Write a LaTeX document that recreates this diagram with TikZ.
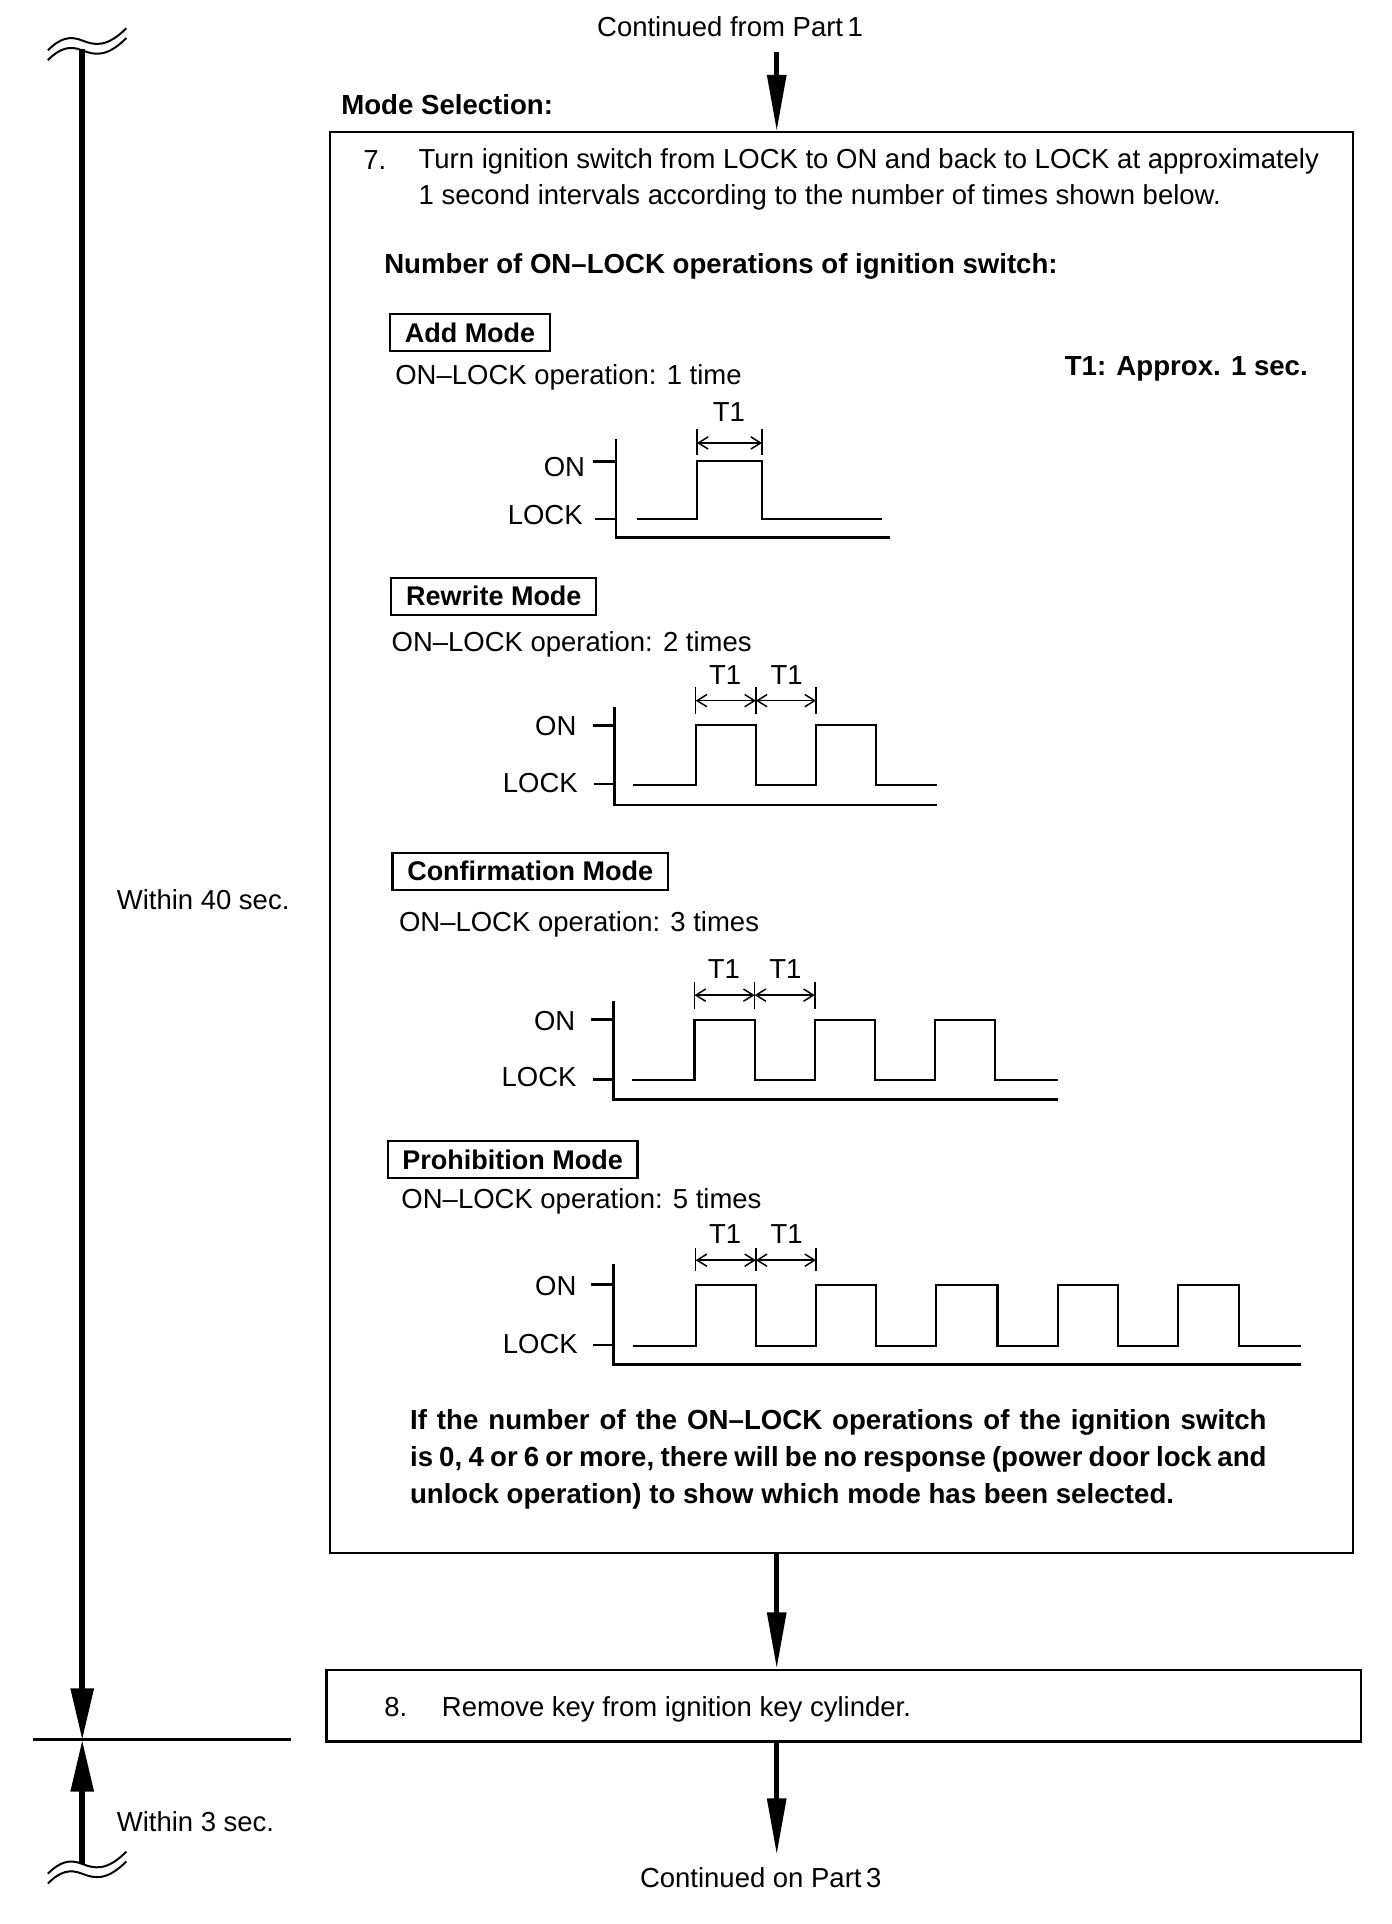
\documentclass[tikz,border=0pt]{standalone}
\usepackage{fontspec}
\setmainfont{Liberation Sans}
\usepackage{tikz}
\usetikzlibrary{arrows.meta,positioning}

\begin{document}
\begin{tikzpicture}[x=1pt,y=-1pt,
  txt/.style={font=\fontsize{22.4}{29.5}\selectfont,inner sep=0pt},
  btxt/.style={font=\fontsize{22.5}{29.5}\selectfont\bfseries,inner sep=0pt},
  frame/.style={draw,line width=1.5pt,inner sep=0pt},
  modebox/.style={draw,line width=1.8pt,font=\fontsize{22}{26}\selectfont\bfseries,
               inner xsep=12pt,inner ysep=0pt,minimum height=30pt},
  flow/.style={-{Triangle[length=46pt,width=15pt]},line width=4pt},
  span/.style={-{Triangle[length=42pt,width=18pt]},line width=4.5pt},
  sig/.style={line width=1.8pt},
  ax/.style={line width=2.2pt},
  dim/.style={{Straight Barb[length=8pt,width=10pt]}-{Straight Barb[length=8pt,width=10pt]},line width=1.2pt},
  brk/.style={line width=1.6pt}]
  \useasboundingbox (0,0) rectangle (1134,1568);
  \coordinate (spine) at (633,0);

  % flow boxes
  \node[txt,anchor=base,inner ysep=12pt] (cont1) at (595,30) {Continued from Part\,1};
  \node[btxt,anchor=base west] (modesel) at (278,93) {Mode Selection:};
  \node[frame,anchor=north west,minimum width=834pt,minimum height=1158pt] (box7) at (268,107) {};
  \node[frame,line width=2.2pt,anchor=north west,minimum width=843pt,minimum height=58pt] (box8) at (265,1360) {};
  \node[txt,anchor=base,inner ysep=10pt] (cont3) at (620,1538) {Continued on Part\,3};
  \draw[flow] (cont1.south -| spine) -- (box7.north -| spine);
  \draw[flow] (box7.south -| spine) -- (box8.north -| spine);
  \draw[flow] (box8.south -| spine) -- (cont3.north -| spine);

  % step 7
  \node[txt,anchor=base west] (n7) at (296,138) {7.};
  \node[txt,anchor=base west,align=left] (s7) at (341,167)
    {Turn ignition switch from LOCK to ON and back to LOCK at approximately\\
     1 second intervals according to the number of times shown below.};
  \node[btxt,anchor=base west] (count) at (313,223) {Number of ON–LOCK operations of ignition switch:};
  \node[btxt,anchor=base east] (t1def) at (1066,306) {T1: Approx. 1 sec.};

  \node[modebox,anchor=west] (add) at (317,271) {Add Mode};
  \node[txt,anchor=base west] (addop) at (322,313) {ON–LOCK operation: 1 time};
  \node[modebox,anchor=west] (rewrite) at (318,486) {Rewrite Mode};
  \node[txt,anchor=base west] (rewop) at (319,531) {ON–LOCK operation: 2 times};
  \node[modebox,anchor=west] (confirm) at (319,710) {Confirmation Mode};
  \node[txt,anchor=base west] (conop) at (325,759) {ON–LOCK operation: 3 times};
  \node[modebox,anchor=west] (prohib) at (315,945) {Prohibition Mode};
  \node[txt,anchor=base west] (proop) at (327,985) {ON–LOCK operation: 5 times};

  % add mode timing
  \begin{scope}[shift={(502,438)}]
    \draw[ax] (0,-80) -- (0,0) -- (223,0);
    \draw[ax] (-19,-62) -- (0,-62) (-17,-15) -- (0,-15);
    \node[txt,anchor=east] (on1) at (-25,-57) {ON};
    \node[txt,anchor=east] (lock1) at (-27,-18) {LOCK};
    \draw[sig] (17,-15) -- (66,-15) -- (66,-62) -- (119,-62) -- (119,-15) -- (217,-15);
    \draw[line width=1.2pt] (66,-88) -- (66,-67) (119,-88) -- (119,-67);
    \draw[dim] (66,-77) -- (119,-77);
    \node[txt] (t1a) at (92,-102) {T1};
  \end{scope}

  % rewrite mode timing
  \begin{scope}[shift={(501,656)}]
    \draw[ax] (0,-80) -- (0,0) -- (263,0);
    \draw[ax] (-18,-65) -- (0,-65) (-17,-17) -- (0,-17);
    \node[txt,anchor=east] (on2) at (-31,-64) {ON};
    \node[txt,anchor=east] (lock2) at (-30,-18) {LOCK};
    \draw[sig] (15,-16) -- (66,-16) -- (66,-65) -- (115,-65) -- (115,-16) -- (164,-16)
      -- (164,-65) -- (213,-65) -- (213,-16) -- (263,-16);
    \draw[line width=1.2pt] (66,-96) -- (66,-74) (115,-96) -- (115,-74) (164,-96) -- (164,-74);
    \draw[dim] (66,-85) -- (115,-85);
    \draw[dim] (115,-85) -- (164,-85);
    \node[txt] (t2a) at (90,-106) {T1};
    \node[txt] (t2b) at (140,-106) {T1};
  \end{scope}

  % confirmation mode timing
  \begin{scope}[shift={(500,896)}]
    \draw[ax] (0,-80) -- (0,0) -- (362,0);
    \draw[ax] (-18,-65) -- (0,-65) (-17,-16) -- (0,-16);
    \node[txt,anchor=east] (on3) at (-31,-64) {ON};
    \node[txt,anchor=east] (lock3) at (-30,-18) {LOCK};
    \draw[sig] (15,-16) -- (66,-16) -- (66,-65) -- (115,-65) -- (115,-16) -- (164,-16)
      -- (164,-65) -- (213,-65) -- (213,-16) -- (262,-16) -- (262,-65) -- (311,-65)
      -- (311,-16) -- (362,-16);
    \draw[line width=1.2pt] (66,-96) -- (66,-74) (115,-96) -- (115,-74) (164,-96) -- (164,-74);
    \draw[dim] (66,-85) -- (115,-85);
    \draw[dim] (115,-85) -- (164,-85);
    \node[txt] (t3a) at (90,-106) {T1};
    \node[txt] (t3b) at (140,-106) {T1};
  \end{scope}

  % prohibition mode timing
  \begin{scope}[shift={(500,1112)}]
    \draw[ax] (0,-82) -- (0,0) -- (560,0);
    \draw[ax] (-18,-65) -- (0,-65) (-17,-16) -- (0,-16);
    \node[txt,anchor=east] (on5) at (-30,-64) {ON};
    \node[txt,anchor=east] (lock5) at (-29,-17) {LOCK};
    \draw[sig] (16,-15) -- (67,-15) -- (67,-65) -- (116,-65) -- (116,-15) -- (165,-15)
      -- (165,-65) -- (214,-65) -- (214,-15) -- (263,-15) -- (263,-65) -- (313,-65)
      -- (313,-15) -- (362,-15) -- (362,-65) -- (411,-65) -- (411,-15) -- (460,-15)
      -- (460,-65) -- (510,-65) -- (510,-15) -- (560,-15);
    \draw[line width=1.2pt] (67,-95) -- (67,-76) (116,-95) -- (116,-76) (165,-95) -- (165,-76);
    \draw[dim] (67,-85) -- (116,-85);
    \draw[dim] (116,-85) -- (165,-85);
    \node[txt] (t5a) at (91,-106) {T1};
    \node[txt] (t5b) at (141,-106) {T1};
  \end{scope}

  \node[btxt,anchor=base west,text width=698pt,align=justify,font=\fontsize{22.5}{30}\selectfont\bfseries] (note) at (334,1165)
    {If the number of the ON–LOCK operations of the ignition switch\linebreak
     is 0, 4 or 6 or more, there will be no response (power door lock and\linebreak
     unlock operation) to show which mode has been selected.};

  % step 8
  \node[txt,anchor=base west] (n8) at (313,1399) {8.};
  \node[txt,anchor=base west] (s8) at (360,1399) {Remove key from ignition key cylinder.};

  % time limits
  \coordinate (brktop) at (67,40);
  \coordinate (limit) at (67,1418);
  \coordinate (brkbot) at (67,1519);
  \draw[line width=2.5pt] (27,1418) -- (237,1418);
  \draw[span] (brktop) -- (limit);
  \draw[span] (brkbot) -- (limit);
  \node[txt,anchor=base west] (w40) at (95,741) {Within 40 sec.};
  \node[txt,anchor=base west] (w3) at (95,1493) {Within 3 sec.};
  \draw[brk,shift={(67,33)}] (-28,8) .. controls (-18,-2) and (-10,-4) .. (0,0) .. controls (10,4) and (20,6) .. (36,-10);
  \draw[brk,shift={(67,41)}] (-28,8) .. controls (-18,-2) and (-10,-4) .. (0,0) .. controls (10,4) and (20,6) .. (36,-10);
  \draw[brk,shift={(67,1519)}] (-28,8) .. controls (-18,-2) and (-10,-4) .. (0,0) .. controls (10,4) and (20,6) .. (36,-10);
  \draw[brk,shift={(67,1527)}] (-28,8) .. controls (-18,-2) and (-10,-4) .. (0,0) .. controls (10,4) and (20,6) .. (36,-10);
\end{tikzpicture}
\end{document}
